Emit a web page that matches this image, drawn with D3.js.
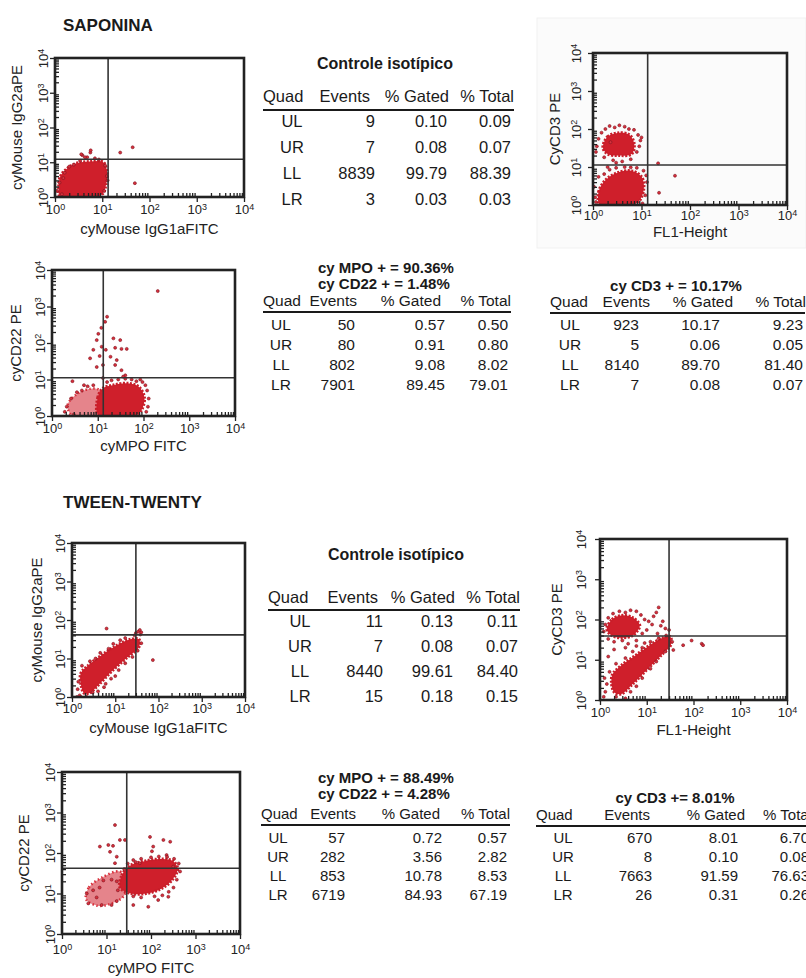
<!DOCTYPE html>
<html>
<head>
<meta charset="utf-8">
<script src="https://cdn.jsdelivr.net/npm/d3@7"></script>
<style>
  body { margin: 0; background: #fff; }
  svg { display: block; font-family: "Liberation Sans", Arial, Helvetica, sans-serif; }
</style>
</head>
<body>
<svg id="fig" width="806" height="978"></svg>
<script>
// ---- table data ----
const quads = ["UL", "UR", "LL", "LR"];

const sapIsoEvents = [9, 7, 8839, 3];
const sapIsoGated = ["0.10", "0.08", "99.79", "0.03"];
const sapIsoTotal = ["0.09", "0.07", "88.39", "0.03"];

const sapMpoEvents = [50, 80, 802, 7901];
const sapMpoGated = ["0.57", "0.91", "9.08", "89.45"];
const sapMpoTotal = ["0.50", "0.80", "8.02", "79.01"];

const sapCd3Events = [923, 5, 8140, 7];
const sapCd3Gated = ["10.17", "0.06", "89.70", "0.08"];
const sapCd3Total = ["9.23", "0.05", "81.40", "0.07"];

const twIsoEvents = [11, 7, 8440, 15];
const twIsoGated = ["0.13", "0.08", "99.61", "0.18"];
const twIsoTotal = ["0.11", "0.07", "84.40", "0.15"];

const twMpoEvents = [57, 282, 853, 6719];
const twMpoGated = ["0.72", "3.56", "10.78", "84.93"];
const twMpoTotal = ["0.57", "2.82", "8.53", "67.19"];

const twCd3Events = [670, 8, 7663, 26];
const twCd3Gated = ["8.01", "0.10", "91.59", "0.31"];
const twCd3Total = ["6.70", "0.08", "76.63", "0.26"];

// ---- scatter data (fluorescence values, log axes 10^0..10^4) ----
// dense cores are outlines of the solid red areas; dots are the loose events
const sapIsoCore = [[1.3,1],[1.2,2],[1.3,4],[1.8,6.6],[2.8,9.3],[5.6,10.5],[10.5,10],[12.6,5.6],[12,2.2],[10,1.2],[6.3,1]];
const sapIsoDots = [[1.5,3.5],[1.25,2.6],[1.6,5],[2,7.5],[2.5,8.5],[3.4,11],[3.8,16],[4.8,14],[5.6,19],[7,13],[8.5,12],
  [11.5,8],[12.5,4],[13,3],[11,1.5],[1.1,1.5],[1.4,1.2],[3.6,17],[5.7,22],[4.3,14],[24,19],[44,27],[49,2.5]];

const sapCd3Upper = [[1.6,32],[2,63],[3.2,79],[5.6,71],[7.1,40],[6.3,22],[3.5,20],[2,22]];
const sapCd3Lower = [[1.4,1],[1.3,2.2],[1.8,4.5],[3.2,7.1],[6.3,7.9],[10,5.6],[11.2,2.8],[8.9,1.26],[5.6,1]];
const sapCd3Dots = [[1.2,35],[1.3,55],[1.5,80],[1.8,100],[2.2,120],[2.8,110],[3.5,125],[4.5,115],[5.5,100],[7,95],[8.5,70],
  [9.5,50],[9,35],[8,25],[6,16],[4,14],[2.6,15],[1.7,18],[1.15,25],[2.3,45],[10,60],[3,13],
  [1.1,1.6],[1.05,3],[1.3,5.5],[1.7,6.5],[2.2,8.5],[3,9.5],[4.5,10],[6,9.8],[8,9.5],[11,8],[12.5,6],[13,4],[12,1.8],
  [10.5,1.1],[1.15,1.2],[2,10],[22,12.5],[49,5.9],[23,2.1]];

const sapMpoCore = [[10.5,1],[10,3.2],[12.6,5.6],[22,7.1],[45,7.9],[79,6.3],[105,3.2],[89,1.4],[63,1]];
const sapMpoHalo = [[2.8,1],[2.2,2],[3.5,4],[7.1,5.6],[11,5],[11,1]];
const sapMpoDots = [[16,525],[10.3,178],[9.5,120],[12.2,79],[15,65],[11,44],[6.8,38],[22,134],[31,120],[24,74],[33,69],
  [43,69],[26,34],[19,42],[24,25],[33,18],[13,25],[8,65],[9.5,22],[40,13],[14.5,380],[12,260],[205,2650],[2.8,9],
  [120,5],[110,7],[95,8.5],[70,9],[55,10],[40,10.5],[28,10],[20,9.5],[16,8.5],[130,3],[125,1.8],[115,1.3],[8,7],
  [6,6.5],[4.5,5],[3.5,4.5],[2.6,3],[2.1,1.8],[1.9,1.3],[3,1.1],[5,7],[13,11],[36,12],[85,10]];

const twIsoCore = [[1.66,1.78],[1.58,4],[2.24,6.3],[5,12.6],[11.2,22.4],[22.4,31.6],[35.5,31.6],[35.5,20],[20,11.2],
  [8.9,5],[4,2],[2.5,1.26],[1.9,1.26]];
const twIsoDots = [[1.5,1.1],[1.35,1.6],[1.4,2.5],[1.7,6.5],[2.6,8.5],[3.5,10],[4.5,14],[7,18],[9,24],[13,30],[17,34],
  [28,40],[38,42],[40,25],[33,16],[25,11],[17,7.5],[12,5],[8,3],[6,2.2],[4,1.4],[2.2,1.0],[3,1.3],[5.5,1.8],[10,3.5],
  [1.3,1.0],[34,50],[40,48],[30,46],[6.3,60],[74,9.1],[1.6,1.0],[37,55]];

const twCd3Upper = [[1.4,56],[1.8,100],[2.8,126],[5,112],[7.1,71],[5,40],[2.8,35],[1.8,40]];
const twCd3Lower = [[2,1.58],[1.8,4],[2.8,7.1],[5.6,12.6],[11.2,22.4],[22.4,35.5],[31.6,38],[33,24],[20,12.6],
  [10,5.6],[5,2.5],[2.8,1.4]];
const twCd3Dots = [[1.2,50],[1.3,75],[1.5,110],[1.9,140],[2.6,160],[3.5,150],[4.5,170],[6,160],[7.5,130],[9,100],
  [11,90],[14,120],[16,150],[18,200],[13,75],[20,70],[25,60],[30,55],[10,55],[8,45],[6,30],[4,25],[3,30],[2,28],
  [1.5,33],[22,90],[17,45],[1.3,1.6],[1.4,2.5],[1.25,3.5],[1.6,5],[2.2,1.2],[3.5,1.1],[4.5,1.6],[6,2.2],[8,3.5],
  [12,6],[16,9],[25,16],[35,28],[2.2,8],[3.5,11],[5,16],[8,20],[12,28],[18,34],[26,40],[1.2,1.2],[1.5,12],[2,18],
  [3.5,20],[6,22],[9,26],[37,17.5],[60,23],[91,30],[150,25],[160,23]];

const twMpoCore = [[20,14],[22,28],[35,50],[71,63],[158,71],[316,63],[398,40],[282,20],[158,12.6],[79,10],[35,10]];
const twMpoHalo = [[3.5,7.1],[4,14],[8,25],[20,35],[28,20],[25,8.9],[12.6,5.6],[6.3,5]];
const twMpoDots = [[15.5,490],[26,210],[7.1,144],[11,158],[14,150],[12,107],[20,210],[95,250],[190,210],[270,190],
  [112,144],[105,110],[40,67],[17,81],[15.5,56],[56,56],[224,89],[316,46],[245,8.3],[87,4.7],[145,6.9],[40,5.2],
  [3.9,5.7],[3.6,10],[5,12],[7.8,5.2],[7,14],[13,5.2],[17,6.5],[8.5,21],[13,22],[6,8],
  [18,12],[17,20],[25,40],[30,55],[45,60],[60,72],[100,78],[150,82],[230,80],[330,72],[420,55],[450,35],[380,22],
  [320,14],[250,11],[180,9],[120,8.5],[60,8],[40,8.5]];

const decades = [1, 10, 100, 1000, 10000];

// ---- layout ----
const svg = d3.select("#fig");
const red = "#cf1f2b";

// faint panel behind the pasted CD3 plot
svg.append("rect").attr("x", 537).attr("y", 18).attr("width", 269).attr("height", 230)
  .attr("fill", "#fbfbfb").attr("stroke", "#f1f1f1");

const plots = [
  { box: [55, 58, 244, 197], gate: [13.3, 12.2], xTitle: "cyMouse IgG1aFITC", yTitle: "cyMouse IgG2aPE",
    cores: [sapIsoCore], halos: [], dots: sapIsoDots, xt: 17, xT: 37, yt: 7, yT: 33 },
  { box: [593, 53, 787, 205], gate: [13.4, 11.3], xTitle: "FL1-Height", yTitle: "CyCD3 PE",
    cores: [sapCd3Upper, sapCd3Lower], halos: [], dots: sapCd3Dots, xt: 15, xT: 32, yt: 12, yT: 33 },
  { box: [52, 270, 235, 416], gate: [13.2, 11.2], xTitle: "cyMPO FITC", yTitle: "cyCD22 PE",
    cores: [sapMpoCore], halos: [sapMpoHalo], dots: sapMpoDots, xt: 17, xT: 35, yt: 7, yT: 31 },
  { box: [72, 543, 245, 697], gate: [30, 41], xTitle: "cyMouse IgG1aFITC", yTitle: "cyMouse IgG2aPE",
    cores: [twIsoCore], halos: [], dots: twIsoDots, xt: 16, xT: 36, yt: 7, yT: 30 },
  { box: [600, 539, 787, 700], gate: [30, 39], xTitle: "FL1-Height", yTitle: "CyCD3 PE",
    cores: [twCd3Upper, twCd3Lower], halos: [], dots: twCd3Dots, xt: 17, xT: 35, yt: 14, yT: 38 },
  { box: [62, 772, 240, 934], gate: [28.5, 42], xTitle: "cyMPO FITC", yTitle: "cyCD22 PE",
    cores: [twMpoCore], halos: [twMpoHalo], dots: twMpoDots, xt: 20, xT: 39, yt: 7, yT: 33 }
];

function supLabels(sel) {
  sel.each(function (d) {
    const t = d3.select(this);
    t.text("10");
    t.append("tspan").attr("dy", "-0.5em").attr("font-size", "9px").text(Math.round(Math.log10(d)));
  });
}

plots.forEach((p, i) => {
  const [x0, y0, x1, y1] = p.box;
  const x = d3.scaleLog().domain([1, 1e4]).range([x0, x1]);
  const y = d3.scaleLog().domain([1, 1e4]).range([y1, y0]);
  const minor = x.ticks().filter(v => !decades.includes(v));
  const g = svg.append("g");

  const clipId = "clip" + i;
  g.append("clipPath").attr("id", clipId)
    .append("rect").attr("x", x0).attr("y", y0).attr("width", x1 - x0).attr("height", y1 - y0);
  const plotArea = g.append("g").attr("clip-path", `url(#${clipId})`);

  const line = d3.line().x(d => x(d[0])).y(d => y(d[1])).curve(d3.curveCatmullRomClosed);
  plotArea.selectAll("path.halo").data(p.halos).join("path")
    .attr("class", "halo").attr("d", line).attr("fill", red).attr("fill-opacity", 0.55)
    .attr("stroke", "#d8303c").attr("stroke-width", 2.5).attr("stroke-dasharray", "1.5 2.5");
  plotArea.selectAll("path.core").data(p.cores).join("path")
    .attr("class", "core").attr("d", line).attr("fill", red)
    .attr("stroke", "#c81e2a").attr("stroke-width", 3).attr("stroke-dasharray", "2 1.5");
  plotArea.selectAll("circle").data(p.dots).join("circle")
    .attr("cx", d => x(d[0])).attr("cy", d => y(d[1])).attr("r", 1.5)
    .attr("fill", "#d8303c").attr("stroke", "#7d1420").attr("stroke-width", 0.6);

  // quadrant gates
  g.append("line").attr("x1", x(p.gate[0])).attr("x2", x(p.gate[0])).attr("y1", y0).attr("y2", y1)
    .attr("stroke", "#333").attr("stroke-width", 1.6);
  g.append("line").attr("x1", x0).attr("x2", x1).attr("y1", y(p.gate[1])).attr("y2", y(p.gate[1]))
    .attr("stroke", "#333").attr("stroke-width", 1.6);

  // minor ticks inward
  const xMinor = g.append("g").attr("transform", `translate(0,${y1})`)
    .call(d3.axisBottom(x).tickValues(minor).tickSize(-4).tickFormat(""));
  const yMinor = g.append("g").attr("transform", `translate(${x0},0)`)
    .call(d3.axisLeft(y).tickValues(minor).tickSize(-4).tickFormat(""));

  // decade ticks with labels
  const xAxis = g.append("g").attr("transform", `translate(0,${y1})`)
    .call(d3.axisBottom(x).tickValues(decades).tickSize(5).tickFormat(() => "10"));
  const yAxis = g.append("g").attr("transform", `translate(${x0},0)`)
    .call(d3.axisLeft(y).tickValues(decades).tickSize(5).tickFormat(() => "10"));

  [xMinor, yMinor, xAxis, yAxis].forEach(a => {
    a.select(".domain").remove();
    a.selectAll("line").attr("stroke", "#222").attr("stroke-width", 1.3);
  });

  xAxis.selectAll("text")
    .attr("y", null).attr("dy", null).attr("transform", `translate(0,${p.xt})`)
    .attr("font-size", "13px").attr("fill", "#222")
    .call(supLabels);
  yAxis.selectAll("text")
    .attr("x", null).attr("dy", null).attr("text-anchor", "middle")
    .attr("transform", `translate(${-p.yt},0) rotate(-90)`)
    .attr("font-size", "13px").attr("fill", "#222")
    .call(supLabels);
  [xAxis, yAxis].forEach(a => a.attr("font-family", null).attr("font-size", null));

  // frame
  g.append("rect").attr("x", x0).attr("y", y0).attr("width", x1 - x0).attr("height", y1 - y0)
    .attr("fill", "none").attr("stroke", "#222").attr("stroke-width", 2.6);

  // axis titles
  g.append("text").attr("x", (x0 + x1) / 2).attr("y", y1 + p.xT).attr("text-anchor", "middle")
    .attr("font-size", "15px").attr("fill", "#222").text(p.xTitle);
  g.append("text").attr("text-anchor", "middle")
    .attr("transform", `translate(${x0 - p.yT},${(y0 + y1) / 2}) rotate(-90)`)
    .attr("font-size", "15px").attr("fill", "#222").text(p.yTitle);
});

// ---- tables ----
const tables = [
  { titles: ["Controle isotípico"], tx: 385, ty: [69], anchor: "middle", tsize: 16, fs: 16.5,
    hy: 102, lineY: 110, lx: [263, 514], hx: [370, 449, 514], qx: 292, cols: [375, 447, 511], ry: 127, dy: 26,
    events: sapIsoEvents, gated: sapIsoGated, total: sapIsoTotal },
  { titles: ["cy MPO + = 90.36%", "cy CD22 + = 1.48%"], tx: 318, ty: [273, 289], anchor: "start", tsize: 15, fs: 15.5,
    hy: 306, lineY: 312, lx: [263, 511], hx: [357, 441, 511], qx: 281, cols: [355, 445, 508], ry: 330, dy: 20,
    events: sapMpoEvents, gated: sapMpoGated, total: sapMpoTotal },
  { titles: ["cy CD3 + = 10.17%"], tx: 676, ty: [291], anchor: "middle", tsize: 15, fs: 15.5,
    hy: 307, lineY: 313, lx: [550, 805], hx: [650, 733, 806], qx: 570, cols: [639, 720, 803], ry: 330, dy: 20,
    events: sapCd3Events, gated: sapCd3Gated, total: sapCd3Total },
  { titles: ["Controle isotípico"], tx: 396, ty: [560], anchor: "middle", tsize: 16, fs: 16.5,
    hy: 603, lineY: 610, lx: [268, 520], hx: [378, 455, 520], qx: 300, cols: [383, 453, 518], ry: 627, dy: 25,
    events: twIsoEvents, gated: twIsoGated, total: twIsoTotal },
  { titles: ["cy MPO + = 88.49%", "cy CD22 + = 4.28%"], tx: 318, ty: [783, 799], anchor: "start", tsize: 15, fs: 15,
    hy: 819, lineY: 825, lx: [261, 510], hx: [356, 440, 510], qx: 278, cols: [345, 442, 507], ry: 843, dy: 19,
    events: twMpoEvents, gated: twMpoGated, total: twMpoTotal },
  { titles: ["cy CD3 += 8.01%"], tx: 675, ty: [803], anchor: "middle", tsize: 15, fs: 15,
    hy: 820, lineY: 826, lx: [536, 806], hx: [650, 745, 812], qx: 563, cols: [652, 738, 809], ry: 843, dy: 19,
    events: twCd3Events, gated: twCd3Gated, total: twCd3Total }
];

tables.forEach(t => {
  const g = svg.append("g").attr("fill", "#1a1a1a").attr("font-size", t.fs + "px");
  t.titles.forEach((s, k) => {
    g.append("text").attr("x", t.tx).attr("y", t.ty[k]).attr("text-anchor", t.anchor)
      .attr("font-weight", "bold").attr("font-size", t.tsize + "px").text(s);
  });
  g.append("text").attr("x", t.lx[0]).attr("y", t.hy).text("Quad");
  ["Events", "% Gated", "% Total"].forEach((h, k) => {
    g.append("text").attr("x", t.hx[k]).attr("y", t.hy).attr("text-anchor", "end").text(h);
  });
  g.append("line").attr("x1", t.lx[0]).attr("x2", t.lx[1]).attr("y1", t.lineY).attr("y2", t.lineY)
    .attr("stroke", "#1a1a1a").attr("stroke-width", 2.2);

  const rowY = d3.scalePoint().domain(quads).range([t.ry, t.ry + 3 * t.dy]);
  quads.forEach((q, k) => {
    const yy = rowY(q);
    g.append("text").attr("x", t.qx).attr("y", yy).attr("text-anchor", "middle").text(q);
    [t.events[k], t.gated[k], t.total[k]].forEach((v, c) => {
      g.append("text").attr("x", t.cols[c]).attr("y", yy).attr("text-anchor", "end").text(v);
    });
  });
});

// ---- section titles ----
svg.append("text").attr("x", 63).attr("y", 31).attr("font-weight", "bold").attr("font-size", "17px")
  .attr("fill", "#1a1a1a").text("SAPONINA");
svg.append("text").attr("x", 63).attr("y", 508).attr("font-weight", "bold").attr("font-size", "17px")
  .attr("fill", "#1a1a1a").text("TWEEN-TWENTY");
</script>
</body>
</html>
